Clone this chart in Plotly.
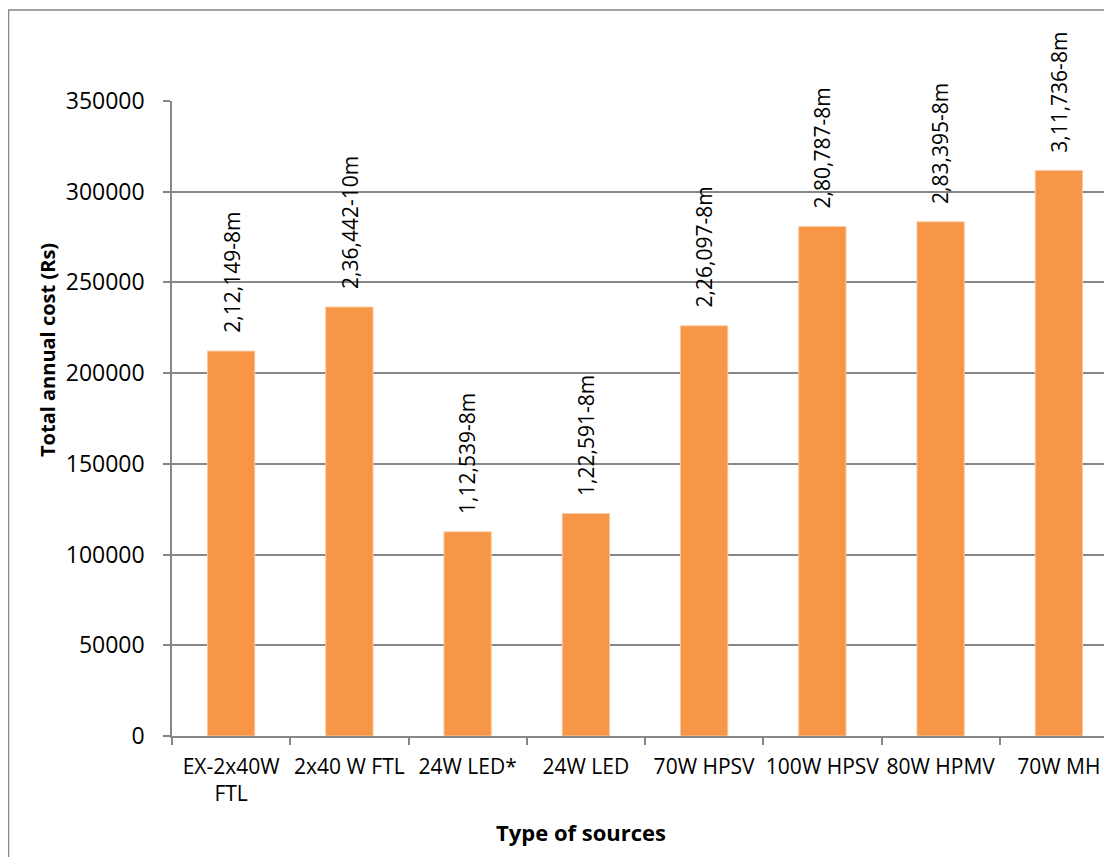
import plotly.graph_objects as go

categories = ["EX-2x40W<br>FTL", "2x40 W FTL", "24W LED*", "24W LED", "70W HPSV", "100W HPSV", "80W HPMV", "70W MH"]
costs = [212149, 236442, 112539, 122591, 226097, 280787, 283395, 311736]
bar_labels = ["2,12,149-8m", "2,36,442-10m", "1,12,539-8m", "1,22,591-8m",
              "2,26,097-8m", "2,80,787-8m", "2,83,395-8m", "3,11,736-8m"]
y_ticks = [0, 50000, 100000, 150000, 200000, 250000, 300000, 350000]

OFF = 8  # page body margin
W, H = 1112 - OFF, 865 - 2 * OFF
L, R, T = 172 - OFF, 0, 101 - OFF
B = H - (736 - OFF)
pw, ph = W - L - R, H - T - B


def px(x):
    return (x - OFF - L) / pw


def py(y):
    return (T + ph - (y - OFF)) / ph


FONT = "Open Sans"
GRID = "#878787"

fig = go.Figure()
fig.add_trace(go.Bar(
    x=categories, y=costs, width=0.4,
    marker=dict(color="#F79646", line=dict(color="#FAC9A0", width=1)),
    hoverinfo="x+y",
))

annotations = []
for c, v, t in zip(categories, costs, bar_labels):
    annotations.append(dict(x=c, y=v, xref="x", yref="y", text=t, textangle=-90,
                            showarrow=False, xanchor="center", yanchor="bottom", yshift=16,
                            font=dict(family=FONT, size=21, color="black")))
annotations.append(dict(x=px(580.5), y=py(832), xref="paper", yref="paper",
                        text="<b>Type of sources</b>", showarrow=False, xanchor="center", yanchor="middle",
                        font=dict(family=FONT, size=22, color="black")))
annotations.append(dict(x=px(47), y=py(350), xref="paper", yref="paper",
                        text="<b>Total annual cost (Rs)</b>", textangle=-90, showarrow=False,
                        xanchor="center", yanchor="middle",
                        font=dict(family=FONT, size=20, color="black")))

fig.update_layout(
    width=W, height=H,
    margin=dict(l=L, r=R, t=T, b=B, autoexpand=False),
    paper_bgcolor="white", plot_bgcolor="white",
    showlegend=False,
    font=dict(family=FONT, size=21, color="black"),
    annotations=annotations,
    shapes=[dict(type="rect", xref="paper", yref="paper",
                 x0=px(8.5), x1=1.3, y0=-0.5, y1=py(10),
                 line=dict(color=GRID, width=1.5), fillcolor="rgba(0,0,0,0)", layer="below")],
    xaxis=dict(
        type="category", range=[-0.5, 7.5 - 6 / 118.3],
        showline=True, linecolor=GRID, linewidth=1.5,
        ticks="outside", tickson="boundaries", ticklen=7, tickcolor=GRID, tickwidth=1.5,
        showgrid=False, tickangle=0, tickfont=dict(family=FONT, size=21, color="black"),
        ticklabelstandoff=11,
    ),
    yaxis=dict(
        range=[0, 350000], tickvals=y_ticks, ticktext=[str(v) for v in y_ticks],
        showline=True, linecolor=GRID, linewidth=1.5,
        showgrid=True, gridcolor=GRID, gridwidth=1.5,
        ticks="outside", ticklen=7, tickcolor=GRID, tickwidth=1.5,
        tickfont=dict(family=FONT, size=23, color="black"),
        ticklabelstandoff=14, zeroline=False,
    ),
)

fig.write_html("out.html")
